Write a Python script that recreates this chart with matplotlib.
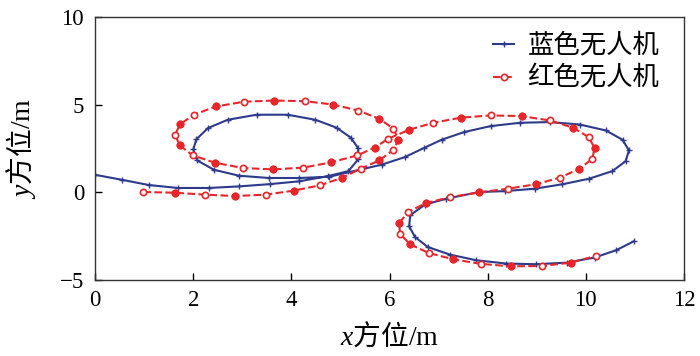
import matplotlib
matplotlib.use("Agg")
import matplotlib.pyplot as plt

plt.rcParams['font.family'] = ['Liberation Serif', 'Noto Sans CJK SC']
plt.rcParams['mathtext.fontset'] = 'custom'
plt.rcParams['mathtext.rm'] = 'Liberation Serif'
plt.rcParams['mathtext.it'] = 'Liberation Serif:italic'

# blue UAV track
blue_x = [0.0, 0.54, 1.09, 1.68, 2.31, 2.93, 3.56, 4.16, 4.75, 5.16, 5.36, 5.36, 5.21, 4.92,
          4.49, 3.92, 3.29, 2.70, 2.30, 2.06, 2.00, 2.08, 2.42, 2.93, 3.54, 4.16, 4.77,
          5.84, 6.31, 6.70, 7.06, 7.52, 8.06, 8.66, 9.27, 9.88, 10.41, 10.75, 10.88, 10.81,
          10.54, 10.07, 9.52, 8.96, 8.35, 7.83, 7.16, 6.72, 6.42, 6.40, 6.52, 6.78, 7.23,
          7.76, 8.37, 8.98, 9.61, 10.18, 10.62, 10.98]
blue_y = [1.0, 0.72, 0.42, 0.25, 0.25, 0.34, 0.47, 0.63, 0.93, 1.21, 1.88, 2.52, 3.12, 3.69,
          4.14, 4.43, 4.43, 4.14, 3.67, 3.02, 2.45, 1.82, 1.29, 0.95, 0.82, 0.82, 0.89,
          1.58, 2.01, 2.53, 3.00, 3.44, 3.78, 3.97, 4.01, 3.87, 3.53, 3.00, 2.39, 1.77,
          1.21, 0.78, 0.46, 0.21, 0.07, 0.02, -0.36, -0.70, -1.31, -1.94, -2.55, -3.12, -3.55,
          -3.87, -4.06, -4.10, -4.01, -3.72, -3.30, -2.79]

# red UAV track
red_x = [0.98, 1.62, 2.23, 2.85, 3.48, 4.05, 4.58, 5.04, 5.41, 5.79, 6.08, 6.18, 6.08, 5.79,
         5.36, 4.85, 4.28, 3.65, 3.03, 2.46, 2.02, 1.73, 1.63, 1.72, 1.99, 2.44, 3.01, 3.62,
         4.24, 4.81, 5.34, 5.70, 5.97, 6.40, 6.89, 7.45, 8.06, 8.69, 9.27, 9.74, 10.06,
         10.18, 10.13, 9.86, 9.47, 8.98, 8.42, 7.83, 7.24, 6.74, 6.38, 6.20, 6.21, 6.42,
         6.80, 7.30, 7.86, 8.47, 9.11, 9.69, 10.20]
red_y = [0.02, -0.02, -0.13, -0.21, -0.13, 0.10, 0.40, 0.84, 1.35, 1.82, 2.43, 3.00, 3.63, 4.20,
         4.67, 5.01, 5.20, 5.24, 5.17, 4.90, 4.44, 3.89, 3.29, 2.68, 2.11, 1.69, 1.39, 1.31,
         1.41, 1.71, 2.11, 2.55, 3.06, 3.57, 3.97, 4.26, 4.39, 4.35, 4.10, 3.69, 3.15,
         2.52, 1.90, 1.33, 0.84, 0.46, 0.21, 0.00, -0.27, -0.61, -1.12, -1.73, -2.36, -2.97,
         -3.46, -3.82, -4.08, -4.22, -4.20, -4.01, -3.63]

blue = '#2e3a8c'
red = '#e8262a'

fig = plt.figure(figsize=(7, 3.56), dpi=100)
ax = fig.add_axes([0.136, 0.2135, 0.841, 0.7385])

ax.plot(blue_x, blue_y, '-', color=blue, lw=1.5, marker='+', ms=5, mew=1.0, label='蓝色无人机')
ax.plot(red_x, red_y, '--', color=red, lw=1.5, marker='o', ms=4.5, mew=1.2,
        mfc='white', label='红色无人机')
ax.plot(red_x[1::2], red_y[1::2], 'o', color=red, ms=4.5, mew=1.2)

ax.set_xlim(0, 12)
ax.set_ylim(-5, 10)
ax.set_xticks([0, 2, 4, 6, 8, 10, 12])
ax.set_yticks([-5, 0, 5, 10])
ax.tick_params(direction='in', labelsize=16.5, length=5, width=1.0)
ax.tick_params(axis='x', pad=7)
ax.tick_params(axis='y', pad=8)
for s in ax.spines.values():
    s.set_linewidth(1.0)
    s.set_color('#333333')

ax.set_xlabel(r'$x$方位$\mathrm{/m}$', fontsize=20, family='Noto Sans CJK SC', labelpad=8)
ax.set_ylabel(r'$y$方位$\mathrm{/m}$', fontsize=20, family='Noto Sans CJK SC', labelpad=16)

ax.legend(loc='upper right', frameon=False, fontsize=19, handlelength=0.8,
          handletextpad=0.5, labelspacing=0.3, borderaxespad=0.2,
          bbox_to_anchor=(0.985, 1.0))

fig.savefig('out.png', dpi=100)
